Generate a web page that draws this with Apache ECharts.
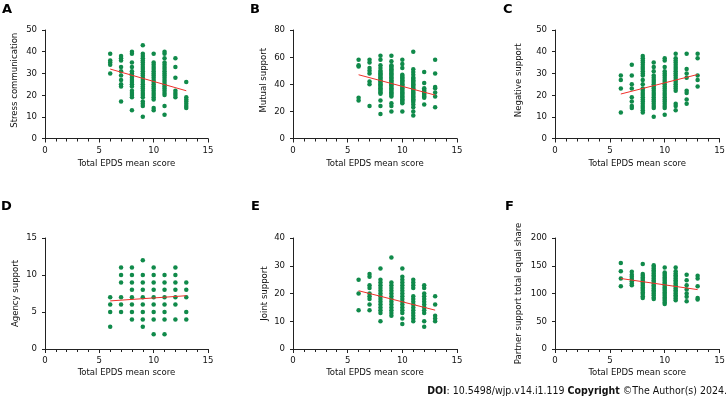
<!DOCTYPE html>
<html><head><meta charset="utf-8">
<script src="https://cdn.jsdelivr.net/npm/echarts@6/dist/echarts.min.js"></script>
<style>html,body{margin:0;padding:0;background:#fff}#c{width:728px;height:403px}</style>
</head><body><div id="c"></div>
<script>
// ---- data ----
const xLabel = 'Total EPDS mean score';
const panelLetters = ['A','B','C','D','E','F'];
const yNames = ['Stress communication','Mutual support','Negative support','Agency support','Joint support','Partner support total equal share'];
const yMax = [50, 80, 50, 15, 40, 200];
const yStep = [10, 20, 10, 5, 10, 50];

const stressCommunication = {
  6:[39,36,35,34,30],
  7:[38,37,36,33,31,29,27,25,24,17],
  8:[40,39,35,33,31,30,29,28,27,26,25,24,22,21,20,19,13],
  9:[43,39,38,37,36,35,34,33,32,31,30,29,28,27,26,25,24,23,22,21,20,19,17,16,15,10],
  10:[39,35,34,33,32,31,30,29,28,27,26,25,24,23,22,21,20,19,18,14,13],
  11:[40,39,37,35,34,33,32,31,30,29,28,27,26,25,24,23,22,21,20,15,11],
  12:[37,33,28,22,21,20,19],
  13:[26,19,18,17,16,15,14]
};
const stressFit = [[6,32],[13,22]];

const mutualSupport = {
  6:[58,54,53,30,28],
  7:[58,56,52,50,48,42,40,24],
  8:[61,58,54,52,50,49,48,47,46,45,44,43,42,41,40,39,38,37,36,35,34,33,28,24,18],
  9:[61,57,54,53,52,51,50,49,48,47,46,45,44,43,42,41,40,39,38,37,36,35,34,33,32,31,26,24,20],
  10:[58,55,52,47,46,45,44,43,42,41,40,39,38,37,36,35,34,33,32,31,30,29,28,27,26,20],
  11:[64,51,49,47,45,44,43,42,41,40,39,38,37,36,35,34,33,32,31,30,29,28,27,25,23,20,17],
  12:[49,41,37,36,35,34,33,32,31,30,25],
  13:[58,48,38,37,34,31,23]
};
const mutualFit = [[6,47],[13,32]];

const negativeSupport = {
  6:[29,27,23,12],
  7:[34,29,25,23,19,17,15,14],
  8:[38,37,36,35,34,33,32,31,30,29,27,25,23,22,21,20,19,18,17,16,15,14,13,12],
  9:[35,33,31,29,28,27,26,25,24,23,22,21,20,19,18,17,16,15,14,10],
  10:[37,36,33,31,30,29,28,27,26,25,24,23,22,21,20,19,18,17,16,15,14,11],
  11:[39,37,36,35,34,33,32,31,30,29,28,27,26,25,24,23,22,16,15,13],
  12:[39,32,30,28,22,21,18,16],
  13:[39,37,29,27,24]
};
const negativeFit = [[6,20.5],[13,29.5]];

const agencySupport = {
  6:[7,6,5,3],
  7:[11,10,9,7,6,5],
  8:[11,10,9,8,7,6,5,4],
  9:[12,10,9,8,7,6,5,4,3],
  10:[11,10,9,8,7,6,5,4,2],
  11:[10,9,8,7,6,5,4,2],
  12:[11,10,9,8,7,6,4],
  13:[9,8,7,5,4]
};
const agencyFit = [[6,6.5],[13,7.2]];

const jointSupport = {
  6:[25,20,14],
  7:[27,26,23,22,20,19,18,16,14],
  8:[29,25,24,23,22,21,20,19,18,17,16,15,14,13,10],
  9:[33,24,23,22,21,20,19,18,17,16,15,14,13,12],
  10:[29,26,25,24,23,22,21,20,19,18,17,16,15,14,13,11,9],
  11:[25,24,23,22,19,18,17,16,15,14,13,12,11,10],
  12:[23,22,20,19,18,17,16,15,14,13,10,8],
  13:[19,16,12,11,10]
};
const jointFit = [[6,21],[13,14]];

const partnerShare = {
  6:[155,140,127,113],
  7:[139,134,130,126,122,118,115],
  8:[153,135,132,129,126,123,120,117,114,111,108,105,102,99,95,92],
  9:[151,148,145,142,139,136,133,130,127,124,121,118,115,112,109,106,103,100,97,93,90],
  10:[147,138,135,132,129,126,123,120,117,114,111,108,105,102,99,96,93,90,87,84,81],
  11:[147,140,136,133,130,127,124,121,118,115,112,109,106,103,100,97,94,91,88],
  12:[134,124,115,107,100,94,86],
  13:[132,127,113,92,89]
};
const partnerFit = [[6,127],[13,107]];

const panelData = [stressCommunication, mutualSupport, negativeSupport, agencySupport, jointSupport, partnerShare];
const panelFits = [stressFit, mutualFit, negativeFit, agencyFit, jointFit, partnerFit];

// ---- layout ----
const colLeft = [45, 293, 555];
const colWidth = [163, 164, 165];
const rowTop = [30, 238];
const rowHeight = [108.5, 111];
const yNameGap = [25, 24, 31, 24, 23, 31];
const yNameShift = [8, 8, 8, 0, 0, 0];
const letterPos = [[2,3],[250,3],[503,3],[1,200],[251,200],[505,200]];
const xNameGap = [20, 19];

const FONT = '"DejaVu Sans Condensed", "DejaVu Sans", sans-serif';
const GREEN = '#108a4a';
const RED = '#f0302a';
const AX = '#222';

function toPoints(obj){
  const pts = [];
  Object.keys(obj).forEach(k => obj[k].forEach(v => pts.push([Number(k), v])));
  return pts;
}

const grid = [], xAxis = [], yAxis = [], series = [], graphic = [];
for (let i = 0; i < 6; i++){
  const r = Math.floor(i/3), c = i % 3;
  grid.push({left: colLeft[c], top: rowTop[r], width: colWidth[c], height: rowHeight[r]});
  xAxis.push({
    gridIndex: i, type: 'value', min: 0, max: 15, interval: 5,
    name: xLabel, nameLocation: 'middle', nameGap: xNameGap[r],
    nameTextStyle: {fontFamily: FONT, fontSize: 9.5, color: '#111'},
    axisLine: {onZero: false, lineStyle: {color: AX, width: 1}},
    axisTick: {length: 4, lineStyle: {color: AX}},
    minorTick: {show: true, splitNumber: 5, length: 3, lineStyle: {color: AX}},
    splitLine: {show: false},
    axisLabel: {fontFamily: FONT, fontSize: 9.5, color: '#111', margin: 7}
  });
  yAxis.push({
    gridIndex: i, type: 'value', min: 0, max: yMax[i], interval: yStep[i],
    name: yNames[i], nameLocation: 'middle', nameGap: yNameGap[i], nameRotate: 90,
    nameTextStyle: {fontFamily: FONT, fontSize: 9.5, color: '#111', padding: [0,0,0,yNameShift[i]]},
    axisLine: {show: true, onZero: false, lineStyle: {color: AX, width: 1}},
    axisTick: {show: true, length: 3, lineStyle: {color: AX}},
    splitLine: {show: false},
    axisLabel: {fontFamily: FONT, fontSize: 9.5, color: '#111', margin: 8}
  });
  series.push({
    type: 'scatter', xAxisIndex: i, yAxisIndex: i, data: toPoints(panelData[i]),
    symbolSize: 4.5, itemStyle: {color: GREEN, opacity: 1}, silent: true, animation: false
  });
  series.push({
    type: 'line', xAxisIndex: i, yAxisIndex: i, data: panelFits[i],
    symbol: 'none', lineStyle: {color: RED, width: 1}, silent: true, animation: false, z: 3
  });
  graphic.push({
    type: 'text', left: letterPos[i][0], top: letterPos[i][1],
    style: {text: panelLetters[i], font: 'bold 13px "DejaVu Sans", sans-serif', fill: '#000'}
  });
}
graphic.push({
  type: 'text', right: 1, top: 386,
  style: {
    text: '{b|DOI}: 10.5498/wjp.v14.i1.119 {b|Copyright} ©The Author(s) 2024.',
    font: '10.5px ' + FONT, fill: '#111',
    rich: {b: {fontWeight: 'bold', fontFamily: FONT, fontSize: 10.5, fill: '#111'}}
  }
});

const chart = echarts.init(document.getElementById('c'), null, {renderer: 'canvas'});
chart.setOption({animation: false, backgroundColor: '#fff', grid, xAxis, yAxis, series, graphic});
</script>
</body></html>
